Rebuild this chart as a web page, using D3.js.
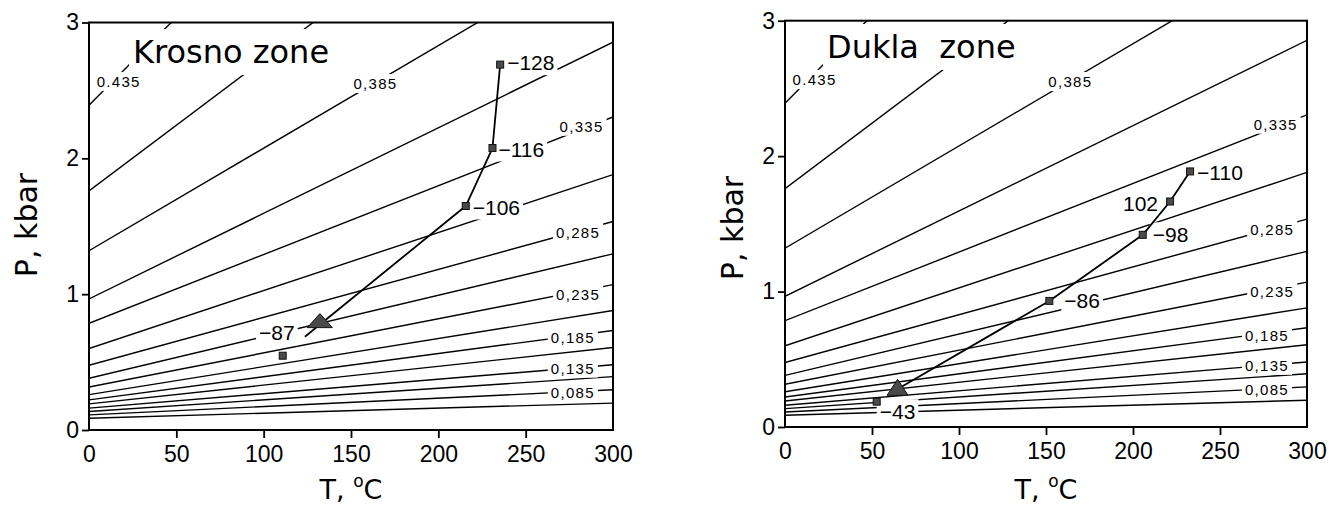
<!DOCTYPE html>
<html><head><meta charset="utf-8">
<script src="https://cdn.jsdelivr.net/npm/d3@7"></script>
<style>body{margin:0;background:#fff} svg{display:block}</style>
</head><body>
<svg id="chart" width="1329" height="507"></svg>
<script>
// ---------------- data ----------------
const tempTicks = [0, 50, 100, 150, 200, 250, 300];
const presTicks = [0, 1, 2, 3];

// isochores (density, g/cm3): pressure (kbar) at 0 °C and at 300 °C
const isoDensity = [0.435, 0.41, 0.385, 0.36, 0.335, 0.31, 0.285, 0.26, 0.235, 0.21, 0.185, 0.16, 0.135, 0.11, 0.085, 0.06];
const isoP0   = [2.39, 1.76, 1.32, 0.965, 0.785, 0.60, 0.476, 0.381, 0.316, 0.26, 0.222, 0.192, 0.161, 0.136, 0.111, 0.087];
const isoP300 = [6.28, 4.66, 3.585, 2.855, 2.305, 1.88, 1.535, 1.297, 1.07, 0.88, 0.733, 0.607, 0.48, 0.393, 0.296, 0.198];
const isoLabelDensity = [0.435, 0.385, 0.335, 0.285, 0.235, 0.185, 0.135, 0.085];
const isoLabelText = ["0.435", "0,385", "0,335", "0,285", "0,235", "0,185", "0,135", "0,085"];

// Krosno zone
const krosnoPathT = [235.4, 231.0, 215.7, 123.6];
const krosnoPathP = [2.69, 2.076, 1.649, 0.687];
const krosnoSqT = [235.4, 231.0, 215.7, 110.9];
const krosnoSqP = [2.69, 2.076, 1.649, 0.547];
const krosnoSqLabel = ["\u2212128", "\u2212116", "\u2212106", "\u221287"];
const krosnoTriT = [132.2];
const krosnoTriP = [0.795];

// Dukla zone
const duklaPathT = [232.8, 221.3, 205.6, 151.9, 66.0];
const duklaPathP = [1.887, 1.665, 1.419, 0.931, 0.29];
const duklaSqT = [232.8, 221.3, 205.6, 151.9, 52.7];
const duklaSqP = [1.887, 1.665, 1.419, 0.931, 0.187];
const duklaSqLabel = ["\u2212110", "102", "\u221298", "\u221286", "\u221243"];
const duklaTriT = [64.7];
const duklaTriP = [0.281];

// ---------------- layout ----------------
const isoLabelLayout = { T: [17, 164, 282, 280, 280, 277, 277, 277], dy: [6, 1, -3, 1, 3, 2, 0, 1] };
const panels = [
  { title: "Krosno zone", x0: 89, x1: 613, yB: 430, yT: 22.5, titleX: 133, titleBase: 63, pX: 37, pY: 225,
    pathT: krosnoPathT, pathP: krosnoPathP, sqT: krosnoSqT, sqP: krosnoSqP, sqLabel: krosnoSqLabel,
    triT: krosnoTriT, triP: krosnoTriP, tri: [25, 14],
    lab: [{dx: 7, dy: -2, a: "start"}, {dx: 6, dy: 1, a: "start"}, {dx: 7, dy: 1, a: "start"}, {dx: 12, dy: -23, a: "end"}] },
  { title: "Dukla\u00a0 zone", x0: 785, x1: 1307, yB: 427, yT: 20.7, titleX: 827, titleBase: 58, pX: 743, pY: 228,
    pathT: duklaPathT, pathP: duklaPathP, sqT: duklaSqT, sqP: duklaSqP, sqLabel: duklaSqLabel,
    triT: duklaTriT, triP: duklaTriP, tri: [21, 16],
    lab: [{dx: 7, dy: 1, a: "start"}, {dx: -12, dy: 2, a: "end"}, {dx: 10, dy: 0, a: "start"}, {dx: 15, dy: 0, a: "start"}, {dx: 3, dy: 10, a: "start"}] }
];

const svg = d3.select("#chart");
const SANS = "'Liberation Sans', Arial, Helvetica, sans-serif";
const DJ = "'DejaVu Sans', 'Liberation Sans', sans-serif";

function haloText(g, x, y, text, opts, pad) {
  const grp = g.append("g");
  const rect = grp.append("rect").attr("fill", "#fff");
  const t = grp.append("text").attr("x", x).attr("y", y).text(text)
    .attr("font-family", opts.family || SANS).attr("font-size", opts.size)
    .attr("text-anchor", opts.anchor || "start")
    .attr("dominant-baseline", opts.baseline || "auto")
    .attr("letter-spacing", opts.ls || 0)
    .attr("fill", "#000");
  const bb = t.node().getBBox();
  const px = pad[0], py = pad[1];
  rect.attr("x", bb.x - px).attr("y", bb.y - py).attr("width", bb.width + 2 * px).attr("height", bb.height + 2 * py);
  return grp;
}

panels.forEach((p, pi) => {
  const x = d3.scaleLinear().domain([0, 300]).range([p.x0, p.x1]);
  const y = d3.scaleLinear().domain([0, 3]).range([p.yB, p.yT]);
  const g = svg.append("g");
  const clipId = "clip" + pi;
  svg.append("clipPath").attr("id", clipId).append("rect")
    .attr("x", p.x0).attr("y", p.yT).attr("width", p.x1 - p.x0).attr("height", p.yB - p.yT);

  // isochores
  const line = d3.line().x(d => x(d[0])).y(d => y(d[1]));
  const isoG = g.append("g").attr("clip-path", `url(#${clipId})`);
  isoDensity.forEach((d, i) => {
    isoG.append("path").attr("d", line([[0, isoP0[i]], [300, isoP300[i]]]))
      .attr("fill", "none").attr("stroke", "#000").attr("stroke-width", 1.4);
  });

  // isochore labels
  isoLabelDensity.forEach((d, k) => {
    const i = isoDensity.indexOf(d);
    const T = isoLabelLayout.T[k];
    const P = isoP0[i] + (isoP300[i] - isoP0[i]) * T / 300;
    haloText(g, x(T), y(P) + isoLabelLayout.dy[k], isoLabelText[k],
      { size: 15, anchor: "middle", baseline: "central", ls: 1.3 }, [3, 1]);
  });

  // title
  haloText(g, p.titleX, p.titleBase, p.title, { size: 32, family: DJ }, [4, 4]);

  // point labels
  p.sqLabel.forEach((lab, i) => {
    const L = p.lab[i];
    haloText(g, x(p.sqT[i]) + L.dx, y(p.sqP[i]) + L.dy, lab,
      { size: 21, anchor: L.a, baseline: "central" }, [3, 1]);
  });

  // trajectory
  const pts = p.pathT.map((t, i) => [t, p.pathP[i]]);
  g.append("path").attr("d", line(pts)).attr("fill", "none")
    .attr("stroke", "#000").attr("stroke-width", 1.8).attr("stroke-linejoin", "round");

  // triangles
  p.triT.forEach((t, i) => {
    const cx = x(t), cy = y(p.triP[i]);
    const w = p.tri[0], h = p.tri[1];
    g.append("path")
      .attr("d", `M${cx},${cy - h * 0.6}L${cx + w / 2},${cy + h * 0.4}L${cx - w / 2},${cy + h * 0.4}Z`)
      .attr("fill", "#4a4a4a").attr("stroke", "#111").attr("stroke-width", 1);
  });

  // squares
  p.sqT.forEach((t, i) => {
    g.append("rect").attr("x", x(t) - 3.5).attr("y", y(p.sqP[i]) - 3.5)
      .attr("width", 7).attr("height", 7)
      .attr("fill", "#4a4a4a").attr("stroke", "#111").attr("stroke-width", 1);
  });

  // frame
  g.append("rect").attr("x", p.x0).attr("y", p.yT).attr("width", p.x1 - p.x0).attr("height", p.yB - p.yT)
    .attr("fill", "none").attr("stroke", "#000").attr("stroke-width", 2);

  // axes
  const ax = g.append("g").attr("transform", `translate(0,${p.yB})`)
    .call(d3.axisBottom(x).tickValues(tempTicks).tickSize(8).tickPadding(8).tickFormat(d3.format("d")));
  const ay = g.append("g").attr("transform", `translate(${p.x0},0)`)
    .call(d3.axisLeft(y).tickValues(presTicks).tickSize(7).tickPadding(3).tickFormat(d3.format("d")));
  [ax, ay].forEach(a => {
    a.select(".domain").remove();
    a.selectAll(".tick line").attr("stroke", "#000").attr("stroke-width", 1.8);
    a.selectAll(".tick text").attr("font-family", SANS).attr("font-size", 23).attr("fill", "#000");
  });
  ax.selectAll(".tick").filter(d => d === 0 || d === 300).select("line").remove();

  // axis titles
  g.append("text").attr("transform", `translate(${p.pX},${p.pY}) rotate(-90)`)
    .attr("text-anchor", "middle").attr("font-family", DJ).attr("font-size", 30).attr("fill", "#000")
    .text("P, kbar");
  const tt = g.append("text").attr("x", (p.x0 + p.x1) / 2).attr("y", 499)
    .attr("text-anchor", "middle").attr("font-family", DJ).attr("font-size", 27).attr("fill", "#000");
  tt.append("tspan").text("T, ");
  tt.append("tspan").attr("font-size", 17).attr("dy", -12).text("o");
  tt.append("tspan").attr("dy", 12).text("C");
});
</script>
</body></html>
